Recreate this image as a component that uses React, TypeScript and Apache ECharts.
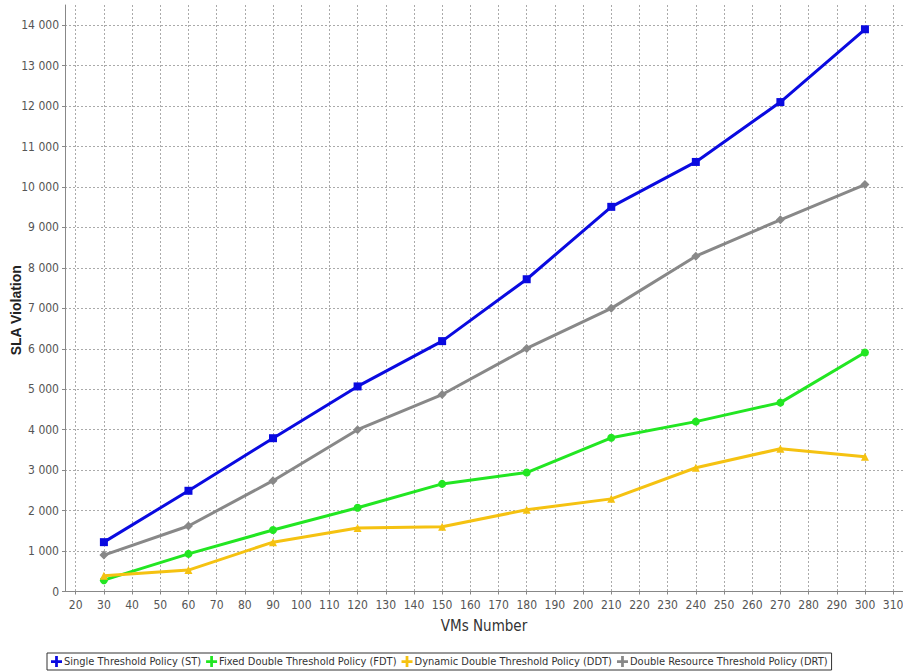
import React, { useEffect, useRef } from "react";
import * as echarts from "echarts";

const vms = [30, 60, 90, 120, 150, 180, 210, 240, 270, 300];
const stValues = [1220, 2490, 3790, 5070, 6190, 7720, 9510, 10620, 12100, 13900];
const fdtValues = [280, 930, 1520, 2070, 2660, 2940, 3800, 4200, 4670, 5910];
const ddtValues = [390, 530, 1220, 1570, 1600, 2020, 2290, 3060, 3530, 3330];
const drtValues = [900, 1620, 2740, 4000, 4870, 6010, 7000, 8290, 9190, 10060];
const xTicks = [20, 30, 40, 50, 60, 70, 80, 90, 100, 110, 120, 130, 140, 150, 160, 170, 180, 190, 200, 210, 220, 230, 240, 250, 260, 270, 280, 290, 300, 310];
const yTicks = [0, 1000, 2000, 3000, 4000, 5000, 6000, 7000, 8000, 9000, 10000, 11000, 12000, 13000, 14000];

const FONT = "'DejaVu Sans Condensed', 'Liberation Sans', sans-serif";
const PLUS = "path://M3,0H5V3H8V5H5V8H3V5H0V3H3Z";

function pair(vals: number[]) {
  return vms.map((x, i) => [x, vals[i]]);
}

export default function App() {
  const ref = useRef<HTMLDivElement>(null);
  useEffect(() => {
    if (!ref.current) return;
    const chart = echarts.init(ref.current, null, { renderer: "svg" });
    const mk = (name: string, vals: number[], color: string, symbol: string, size: number) => ({
      name,
      type: "line",
      data: pair(vals),
      symbol,
      symbolSize: size,
      showSymbol: true,
      lineStyle: { color, width: 3 },
      itemStyle: { color },
    });
    chart.setOption({
      animation: false,
      backgroundColor: "#ffffff",
      grid: { left: 65, right: 0, top: 5, bottom: 80.5, containLabel: false, outerBoundsMode: "none" },
      legend: {
        bottom: 2,
        left: 47,
        width: 850,
        itemWidth: 11,
        itemHeight: 11,
        itemGap: 5,
        padding: [3, 4],
        borderColor: "#333",
        borderWidth: 1,
        backgroundColor: "#fff",
        textStyle: { fontFamily: FONT, fontSize: 11, color: "#333", padding: [0, 0, 0, -3] },
        data: [
          { name: "Single Threshold Policy (ST)", icon: PLUS },
          { name: "Fixed Double Threshold Policy (FDT)", icon: PLUS },
          { name: "Dynamic Double Threshold Policy (DDT)", icon: PLUS },
          { name: "Double Resource Threshold Policy (DRT)", icon: PLUS },
        ],
      },
      xAxis: {
        type: "value",
        min: 16.2,
        max: 313.5,
        name: "VMs Number",
        nameLocation: "middle",
        nameGap: 27,
        nameMoveOverlap: false,
        nameTextStyle: { fontFamily: "'DejaVu Sans Condensed', 'DejaVu Sans', sans-serif", fontSize: 15, color: "#333" },
        axisLine: { lineStyle: { color: "#888", width: 1 } },
        axisTick: { show: true, length: 3, lineStyle: { color: "#888" }, customValues: xTicks },
        axisLabel: { customValues: xTicks, fontFamily: FONT, fontSize: 12, color: "#555", margin: 7 },
        splitLine: { show: true, lineStyle: { color: "#aaa", type: [2, 2], width: 1 } },
      },
      yAxis: {
        type: "value",
        min: 0,
        max: 14500,
        name: "SLA Violation",
        nameLocation: "middle",
        nameGap: 42,
        nameMoveOverlap: false,
        nameTextStyle: { fontFamily: "'Liberation Sans', Arial, sans-serif", fontSize: 14, fontWeight: "bold", color: "#222", padding: [0, 24, 0, 0] },
        axisLine: { show: true, lineStyle: { color: "#888", width: 1 } },
        axisTick: { show: true, length: 3, lineStyle: { color: "#888" }, customValues: yTicks },
        axisLabel: {
          customValues: yTicks,
          fontFamily: FONT,
          fontSize: 12,
          color: "#555",
          margin: 6,
          formatter: (v: number) => String(v).replace(/\B(?=(\d{3})+(?!\d))/g, " "),
        },
        splitLine: { show: true, lineStyle: { color: "#aaa", type: [2, 2], width: 1 } },
      },
      series: [
        mk("Single Threshold Policy (ST)", stValues, "#0a0ae0", "rect", 8),
        mk("Fixed Double Threshold Policy (FDT)", fdtValues, "#22e622", "circle", 8),
        mk("Dynamic Double Threshold Policy (DDT)", ddtValues, "#f5c211", "triangle", 8),
        mk("Double Resource Threshold Policy (DRT)", drtValues, "#888888", "diamond", 9),
      ],
    });
    return () => chart.dispose();
  }, []);
  return <div ref={ref} style={{ position: "absolute", left: 0, top: 0, width: 903, height: 672 }} />;
}
